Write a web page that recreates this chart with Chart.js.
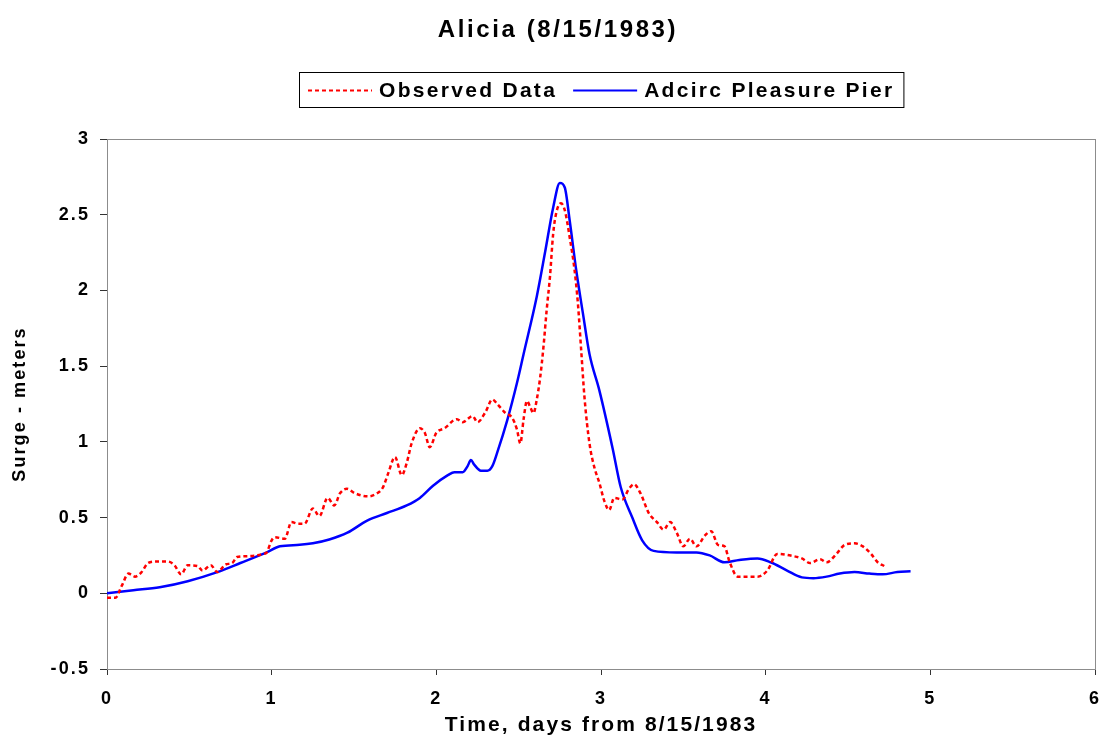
<!DOCTYPE html>
<html>
<head>
<meta charset="utf-8">
<script src="https://cdn.jsdelivr.net/npm/chart.js@4/dist/chart.umd.min.js"></script>
<style>
  body { margin: 0; background: #fff; }
  #wrap { width: 1103px; height: 750px; }
</style>
</head>
<body>
<div id="wrap"><canvas id="myChart" width="1103" height="750"></canvas></div>
<script>
// observed tide gauge, days from 8/15/1983 and surge (m)
var obsTime = [0.00, 0.05, 0.09, 0.13, 0.17, 0.21, 0.25, 0.30, 0.37, 0.41, 0.45, 0.49, 0.55, 0.58, 0.63, 0.67,
  0.72, 0.76, 0.79, 0.85, 0.91, 0.95, 0.97, 1.00, 1.02, 1.08, 1.12, 1.16, 1.20, 1.25, 1.29, 1.34, 1.38, 1.415,
  1.457, 1.506, 1.585, 1.64, 1.676, 1.707, 1.749, 1.79, 1.82, 1.85, 1.90, 1.93, 1.96, 2.00, 2.05, 2.125, 2.16,
  2.22, 2.25, 2.30, 2.34, 2.37, 2.42, 2.46, 2.49, 2.51, 2.53, 2.55, 2.57, 2.59, 2.61, 2.63, 2.65, 2.67, 2.69,
  2.71, 2.73, 2.757, 2.78, 2.81, 2.84, 2.86, 2.88, 2.90, 2.93, 2.96, 2.99, 3.02, 3.05, 3.08, 3.13, 3.17, 3.20,
  3.24, 3.29, 3.34, 3.38, 3.42, 3.46, 3.50, 3.54, 3.58, 3.63, 3.67, 3.71, 3.75, 3.78, 3.83, 3.95, 4.01, 4.07,
  4.17, 4.22, 4.27, 4.33, 4.37, 4.43, 4.48, 4.54, 4.59, 4.64, 4.68, 4.72];
var obsSurge = [-0.03, -0.03, 0.05, 0.13, 0.11, 0.14, 0.20, 0.21, 0.21, 0.185, 0.125, 0.185, 0.18, 0.15, 0.185, 0.14,
  0.19, 0.20, 0.24, 0.245, 0.25, 0.26, 0.27, 0.35, 0.37, 0.36, 0.47, 0.46, 0.46, 0.56, 0.51, 0.63, 0.58, 0.66,
  0.69, 0.66, 0.64, 0.66, 0.70, 0.79, 0.90, 0.78, 0.86, 0.99, 1.09, 1.06, 0.965, 1.06, 1.09, 1.15, 1.13,
  1.17, 1.13, 1.20, 1.28, 1.25, 1.19, 1.16, 1.08, 0.99, 1.15, 1.27, 1.23, 1.19, 1.28, 1.42, 1.62, 1.87, 2.09,
  2.38, 2.52, 2.576, 2.53, 2.35, 2.13, 1.91, 1.60, 1.29, 0.99, 0.83, 0.73, 0.61, 0.55, 0.63, 0.62, 0.69, 0.72,
  0.66, 0.53, 0.47, 0.42, 0.47, 0.40, 0.31, 0.36, 0.31, 0.38, 0.41, 0.32, 0.31, 0.21, 0.11, 0.11, 0.15, 0.26,
  0.245, 0.23, 0.20, 0.225, 0.205, 0.26, 0.32, 0.33, 0.31, 0.26, 0.205, 0.18];

// adcirc model at pleasure pier
var modTime = [0.00, 0.16, 0.32, 0.49, 0.67, 0.81, 0.97, 1.05, 1.17, 1.25, 1.35, 1.46, 1.58, 1.70, 1.82, 1.90,
  1.98, 2.07, 2.11, 2.16, 2.19, 2.21, 2.23, 2.27, 2.31, 2.34, 2.37, 2.43, 2.49, 2.53, 2.61, 2.66, 2.71, 2.75,
  2.78, 2.81, 2.85, 2.89, 2.93, 2.99, 3.07, 3.12, 3.19, 3.25, 3.32, 3.46, 3.58, 3.66, 3.75, 3.84, 3.95, 4.03,
  4.13, 4.22, 4.29, 4.37, 4.45, 4.54, 4.63, 4.71, 4.80, 4.88];
var modSurge = [0.00, 0.02, 0.04, 0.08, 0.14, 0.20, 0.27, 0.31, 0.32, 0.33, 0.355, 0.40, 0.48, 0.53, 0.58, 0.63,
  0.71, 0.78, 0.80, 0.80, 0.84, 0.88, 0.85, 0.81, 0.81, 0.84, 0.93, 1.14, 1.39, 1.58, 1.96, 2.25, 2.55, 2.71,
  2.68, 2.46, 2.13, 1.85, 1.58, 1.34, 0.96, 0.70, 0.50, 0.35, 0.28, 0.27, 0.27, 0.25, 0.205, 0.22, 0.23, 0.205,
  0.15, 0.105, 0.10, 0.11, 0.13, 0.14, 0.13, 0.125, 0.14, 0.145];

var xTicks = [0, 1, 2, 3, 4, 5, 6];
var yTicks = [-0.5, 0, 0.5, 1, 1.5, 2, 2.5, 3];

var chartTitle = 'Alicia (8/15/1983)';
var FONT = '"Liberation Sans", Arial, sans-serif';

function toPoints(xs, ys) {
  return xs.map(function (x, i) { return { x: x, y: ys[i] }; });
}

// title, boxed legend and plot frame drawn by hand to match the excel look
var decor = {
  id: 'decor',
  beforeDraw: function (chart) {
    chart.ctx.letterSpacing = '2.1px';
  },
  beforeDatasetsDraw: function (chart) {
    var a = chart.chartArea, ctx = chart.ctx;
    ctx.save();
    ctx.strokeStyle = '#8c8c8c';
    ctx.lineWidth = 1;
    ctx.strokeRect(a.left + 0.5, a.top + 0.5, a.right - a.left, a.bottom - a.top);
    ctx.restore();
  },
  afterDraw: function (chart) {
    var ctx = chart.ctx;
    ctx.save();
    // title
    ctx.letterSpacing = '2.6px';
    ctx.font = 'bold 24px ' + FONT;
    ctx.fillStyle = '#000';
    ctx.textAlign = 'center';
    ctx.textBaseline = 'middle';
    ctx.fillText(chartTitle, 558, 30);

    // legend
    ctx.letterSpacing = '2.3px';
    ctx.font = 'bold 21px ' + FONT;
    ctx.textAlign = 'left';
    var pad = 9, lineLen = 64, gap = 7, sep = 16;
    var items = chart.data.datasets;
    var total = pad * 2 - sep;
    var widths = items.map(function (d) {
      var w = ctx.measureText(d.label).width;
      total += lineLen + gap + w + sep;
      return w;
    });
    var cx = (chart.chartArea.left + chart.chartArea.right) / 2;
    var left = Math.round(cx - total / 2), top = 72, h = 35, mid = top + h / 2 + 1;
    ctx.strokeStyle = '#000';
    ctx.lineWidth = 1;
    ctx.strokeRect(left + 0.5, top + 0.5, total, h);
    var x = left + pad;
    items.forEach(function (d, i) {
      ctx.save();
      ctx.strokeStyle = d.borderColor;
      ctx.lineWidth = 2;
      ctx.setLineDash(d.borderDash || []);
      ctx.beginPath();
      ctx.moveTo(x, mid);
      ctx.lineTo(x + lineLen, mid);
      ctx.stroke();
      ctx.restore();
      x += lineLen + gap;
      ctx.fillText(d.label, x, mid + 1);
      x += widths[i] + sep;
    });
    ctx.restore();
  }
};

new Chart(document.getElementById('myChart'), {
  type: 'line',
  data: {
    datasets: [
      {
        label: 'Observed Data',
        data: toPoints(obsTime, obsSurge),
        borderColor: '#ff0000',
        borderWidth: 2.5,
        borderDash: [4, 3],
        pointRadius: 0,
        tension: 0.35,
        cubicInterpolationMode: 'monotone'
      },
      {
        label: 'Adcirc Pleasure Pier',
        data: toPoints(modTime, modSurge),
        borderColor: '#0000ff',
        borderWidth: 2.5,
        pointRadius: 0,
        cubicInterpolationMode: 'monotone'
      }
    ]
  },
  options: {
    responsive: false,
    animation: false,
    devicePixelRatio: 1,
    layout: { padding: { top: 139, right: 8, left: 0, bottom: 0 } },
    plugins: { legend: { display: false }, title: { display: false }, tooltip: { enabled: false } },
    scales: {
      x: {
        type: 'linear',
        min: 0, max: 6,
        afterBuildTicks: function (s) { s.ticks = xTicks.map(function (v) { return { value: v }; }); },
        afterFit: function (s) { s.height = 81; s.paddingLeft = 0; s.paddingRight = 0; },
        grid: { drawOnChartArea: false, drawTicks: true, tickLength: 6, color: '#333' },
        border: { color: '#333', width: 1 },
        ticks: { color: '#000', font: { family: FONT, size: 18, weight: 'bold' }, padding: 13, maxRotation: 0,
          callback: function (v) { return String(v); } },
        title: { display: true, text: 'Time, days from 8/15/1983', color: '#000',
          font: { family: FONT, size: 21, weight: 'bold' }, padding: { top: 0, bottom: 12 } }
      },
      y: {
        min: -0.5, max: 3,
        afterBuildTicks: function (s) { s.ticks = yTicks.map(function (v) { return { value: v }; }); },
        afterFit: function (s) { s.width = 107; s.paddingTop = 0; s.paddingBottom = 0; },
        grid: { drawOnChartArea: false, drawTicks: true, tickLength: 7, color: '#333' },
        border: { color: '#333', width: 1 },
        ticks: { color: '#000', font: { family: FONT, size: 18, weight: 'bold' }, padding: 10,
          callback: function (v) { return String(v); } },
        title: { display: true, text: 'Surge - meters', color: '#000',
          font: { family: FONT, size: 18, weight: 'bold' }, padding: { top: 9, bottom: 0 } }
      }
    }
  },
  plugins: [decor]
});
</script>
</body>
</html>
